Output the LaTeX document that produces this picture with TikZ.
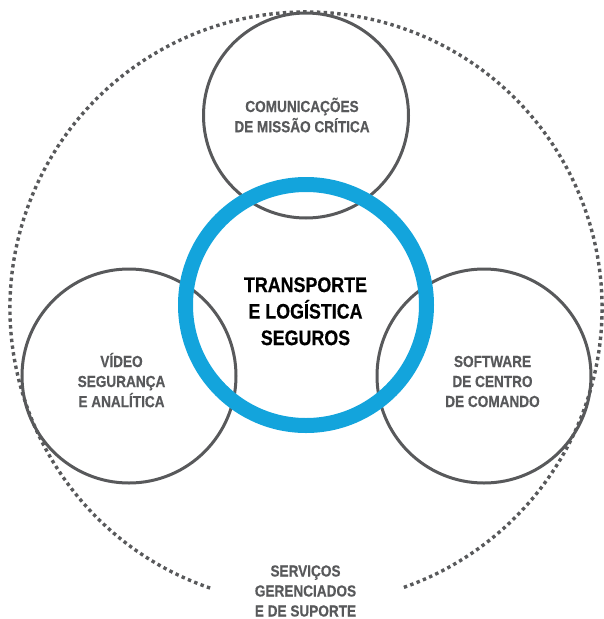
\documentclass[tikz,border=0pt]{standalone}
\usepackage{fontspec}
\setmainfont[FakeStretch=0.85, BoldFeatures={FakeBold=0.5}]{Liberation Sans}
\definecolor{ringgrey}{HTML}{58595B}
\definecolor{ringblue}{HTML}{13A4DC}
\begin{document}
\begin{tikzpicture}[x=1pt,y=-1pt,
  greyring/.style={draw=ringgrey, line width=3pt, circle, inner sep=0pt, minimum size=#1},
  bluering/.style={draw=ringblue, line width=15pt, circle, inner sep=0pt, minimum size=#1},
  dotring/.style={draw=ringgrey, line width=3.4pt, dash pattern=on 3.4pt off 3.4pt},
  sidetext/.style={font=\bfseries\fontsize{16}{20}\selectfont, text=ringgrey, inner sep=0pt, anchor=base},
  coretext/.style={font=\bfseries\fontsize{21}{26.5}\selectfont, text=black, inner sep=0pt, anchor=base}]
\useasboundingbox (0,0) rectangle (603,619);
% outer dotted ring
\coordinate (outerc) at (306,308);
\draw[dotring] ([shift={(108.9:296)}]outerc) arc[start angle=108.9, end angle=431.1, radius=296];
% grey circles
\node[greyring=205pt] (top) at (306,115.5) {};
\node[greyring=214pt] (left) at (129,376) {};
\node[greyring=214pt] (right) at (484,376) {};
% blue ring
\node[bluering=241pt] (core) at (306,305) {};
% texts
\node[sidetext] (toptext) at (302,112) {\begin{tabular}[t]{@{}c@{}}COMUNICAÇÕES\\DE MISSÃO CRÍTICA\end{tabular}};
\node[sidetext] (lefttext) at (121.5,367) {\begin{tabular}[t]{@{}c@{}}VÍDEO\\SEGURANÇA\\E ANALÍTICA\end{tabular}};
\node[sidetext] (righttext) at (492.5,367) {\begin{tabular}[t]{@{}c@{}}SOFTWARE\\DE CENTRO\\DE COMANDO\end{tabular}};
\node[sidetext] (bottomtext) at (305.5,576.5) {\begin{tabular}[t]{@{}c@{}}SERVIÇOS\\GERENCIADOS\\E DE SUPORTE\end{tabular}};
\node[coretext] (coretxt) at (305.5,292) {\begin{tabular}[t]{@{}c@{}}TRANSPORTE\\E LOGÍSTICA\\SEGUROS\end{tabular}};
\end{tikzpicture}
\end{document}
